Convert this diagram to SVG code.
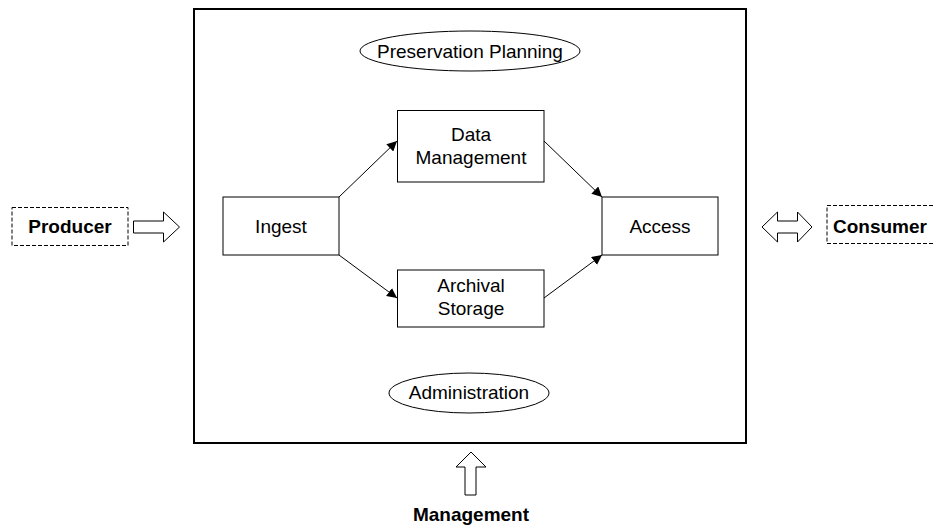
<svg xmlns="http://www.w3.org/2000/svg" width="933" height="525" viewBox="0 0 933 525">
<defs>
<style>
text{font-family:"Liberation Sans",Arial,sans-serif;font-size:19px;fill:#000;text-anchor:middle}
.b{font-weight:bold}
.box{fill:#fff;stroke:#000;stroke-width:1}
.ext{fill:#fff;stroke:#000;stroke-width:1;stroke-dasharray:4 2}
.bl{fill:#fff;stroke:#000;stroke-width:1}
.con{stroke:#000;stroke-width:1;fill:none;marker-end:url(#ah)}
</style>
<marker id="ah" viewBox="0 0 10 10" refX="10" refY="5" markerWidth="10" markerHeight="10" markerUnits="userSpaceOnUse" orient="auto">
<path d="M0,0 L10,5 L0,10 z" fill="#000"/>
</marker>
</defs>
<rect width="933" height="525" fill="#fff"/>
<g id="oais">
<rect x="194" y="9" width="552" height="434" fill="#fff" stroke="#000" stroke-width="2"/>
</g>
<g id="preservation-planning">
<ellipse cx="470" cy="51" rx="110" ry="20" class="box"/>
<text x="470" y="58">Preservation Planning</text>
</g>
<g id="ingest">
<rect x="223" y="197" width="116" height="58" class="box"/>
<text x="281" y="233">Ingest</text>
</g>
<g id="data-management">
<rect x="397.500" y="110.500" width="146.500" height="71.500" class="box"/>
<text x="471" y="141">Data</text>
<text x="471" y="164">Management</text>
</g>
<g id="archival-storage">
<rect x="397.500" y="270" width="146.500" height="57" class="box"/>
<text x="471" y="292">Archival</text>
<text x="471" y="315">Storage</text>
</g>
<g id="access">
<rect x="602" y="197" width="116" height="58" class="box"/>
<text x="660" y="233">Access</text>
</g>
<g id="administration">
<ellipse cx="469" cy="393" rx="80" ry="20" class="box"/>
<text x="469" y="399">Administration</text>
</g>
<g id="producer">
<rect x="12" y="207.500" width="116" height="38" class="ext"/>
<text x="70" y="233" class="b">Producer</text>
</g>
<g id="consumer">
<rect x="827" y="205.500" width="130" height="38" class="ext"/>
<text x="880" y="233" class="b">Consumer</text>
</g>
<g id="management">
<text x="471" y="521" class="b">Management</text>
</g>
<g id="connectors">
<path class="con" d="M339,197 L397,141"/>
<path class="con" d="M339,255 L397,298"/>
<path class="con" d="M544,141 L602,197"/>
<path class="con" d="M544,298 L602,255"/>
<path class="bl" d="M133.500,221 L163.500,221 L163.500,212 L179.500,227 L163.500,242 L163.500,233 L133.500,233 z"/>
<path class="bl" d="M762,227 L777.500,212 L777.500,221 L797.500,221 L797.500,212 L812,227 L797.500,242 L797.500,233 L777.500,233 L777.500,242 z"/>
<path class="bl" d="M471,452 L486,467 L476,467 L476,495 L465,495 L465,467 L456,467 z"/>
</g>
</svg>
